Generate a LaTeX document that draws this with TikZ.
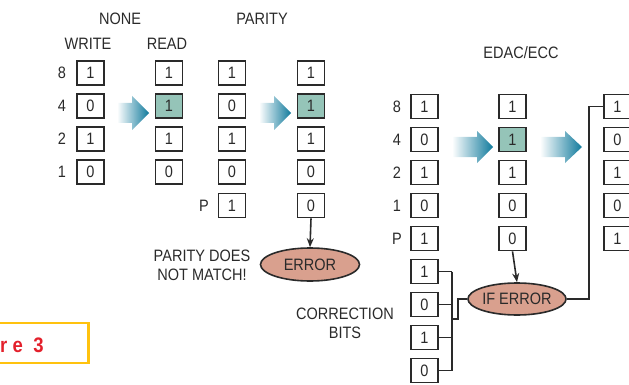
\documentclass[tikz,border=0pt]{standalone}
\usepackage{fontspec}
\setmainfont{Liberation Sans}[FakeStretch=0.88]
\usetikzlibrary{arrows.meta,shapes.geometric}
\definecolor{ink}{HTML}{2A2A2A}
\definecolor{hl}{HTML}{95C4B8}
\definecolor{salmon}{HTML}{D9A08E}
\definecolor{tealdark}{HTML}{107A9C}
\definecolor{figred}{HTML}{E3202B}
\definecolor{figyel}{HTML}{FFC20E}
\tikzset{
  txt/.style={font=\fontsize{16.5}{19}\selectfont},
  bit/.style={txt, draw=ink, line width=1.8pt, minimum width=27pt, minimum height=24pt, inner sep=0pt, text=ink},
  hbit/.style={bit, fill=hl},
  lbl/.style={txt, text=ink, inner sep=0pt},
  oval/.style={txt, ellipse, draw=ink, line width=1.6pt, fill=salmon, inner sep=0pt, text=ink},
  wire/.style={draw=ink, line width=1.6pt},
  arr/.style={wire, -{Stealth[length=9pt,width=7pt]}},
  bigarrow/.style={left color=white, right color=tealdark, draw=none}
}
\begin{document}
\begin{tikzpicture}[x=1pt,y=-1pt]
\useasboundingbox (0,0) rectangle (629,385);
% headings
\node[lbl] (hnone) at (120,19) {NONE};
\node[lbl] (hwrite) at (88,44) {WRITE};
\node[lbl] (hread) at (167,44) {READ};
\node[lbl] (hpar) at (262,19) {PARITY};
\node[lbl] (hedac) at (521,53) {EDAC/ECC};
% column 1 (write)
\node[bit] (a1) at (90.5,73) {1};
\node[bit] (a2) at (90.5,106) {0};
\node[bit] (a3) at (90.5,139) {1};
\node[bit] (a4) at (90.5,172) {0};
\node[lbl] (la1) at (62,73) {8};
\node[lbl] (la2) at (62,106) {4};
\node[lbl] (la3) at (62,139) {2};
\node[lbl] (la4) at (62,172) {1};
% column 2 (read)
\node[bit] (b1) at (169,73) {1};
\node[hbit] (b2) at (169,106) {1};
\node[bit] (b3) at (169,139) {1};
\node[bit] (b4) at (169,172) {0};
% column 3 (parity write)
\node[bit] (c1) at (232,73) {1};
\node[bit] (c2) at (232,106) {0};
\node[bit] (c3) at (232,139) {1};
\node[bit] (c4) at (232,172) {0};
\node[bit] (c5) at (232,205.5) {1};
\node[lbl] (lc5) at (204,205.5) {P};
% column 4 (parity read)
\node[bit] (d1) at (311,73) {1};
\node[hbit] (d2) at (311,106) {1};
\node[bit] (d3) at (311,139) {1};
\node[bit] (d4) at (311,172) {0};
\node[bit] (d5) at (311,205.5) {0};
\node[oval, minimum width=99pt, minimum height=33pt] (err) at (310,264.5) {ERROR};
\node[lbl, align=center] (nomatch) at (202,265) {PARITY DOES\\[0pt]NOT MATCH!};
\draw[arr] (d5.south) -- (err.north);
% arrows left
\shade[bigarrow] (117,103) -- (132,103) -- (132,96) -- (149,113) -- (132,130) -- (132,123) -- (117,123) -- cycle;
\shade[bigarrow] (259,103) -- (274,103) -- (274,96) -- (291,113) -- (274,130) -- (274,123) -- (259,123) -- cycle;
% EDAC column 5
\node[bit] (e1) at (424.5,106.5) {1};
\node[bit] (e2) at (424.5,139.5) {0};
\node[bit] (e3) at (424.5,172.5) {1};
\node[bit] (e4) at (424.5,205.5) {0};
\node[bit] (e5) at (424.5,238.5) {1};
\node[lbl] (le1) at (397,106.5) {8};
\node[lbl] (le2) at (397,139.5) {4};
\node[lbl] (le3) at (397,172.5) {2};
\node[lbl] (le4) at (397,205.5) {1};
\node[lbl] (le5) at (397,238.5) {P};
\node[bit] (k1) at (424.5,271.5) {1};
\node[bit] (k2) at (424.5,304.5) {0};
\node[bit] (k3) at (424.5,337.5) {1};
\node[bit] (k4) at (424.5,370.5) {0};
\node[lbl, align=center] (corr) at (345,323) {CORRECTION\\[0pt]BITS};
% EDAC column 6
\node[bit] (f1) at (512.5,106.5) {1};
\node[hbit] (f2) at (512.5,139.5) {1};
\node[bit] (f3) at (512.5,172.5) {1};
\node[bit] (f4) at (512.5,205.5) {0};
\node[bit] (f5) at (512.5,238.5) {0};
\node[oval, minimum width=98pt, minimum height=32pt] (iferr) at (517,299) {IF ERROR};
\draw[arr] (f5.south) -- (iferr.north);
% EDAC column 7
\node[bit] (g1) at (617.5,106.5) {1};
\node[bit] (g2) at (617.5,139.5) {0};
\node[bit] (g3) at (617.5,172.5) {1};
\node[bit] (g4) at (617.5,205.5) {0};
\node[bit] (g5) at (617.5,238.5) {1};
% EDAC arrows
\shade[bigarrow] (452,137) -- (477,137) -- (477,131) -- (493,147) -- (477,163) -- (477,157) -- (452,157) -- cycle;
\shade[bigarrow] (540,137) -- (565,137) -- (565,131) -- (582,147) -- (565,163) -- (565,157) -- (540,157) -- cycle;
% connectors
\coordinate (kx) at (589,0);
\draw[wire] (iferr.east) -| (kx |- g1.west) -- (g1.west);
\coordinate (bx) at (452,319);
\coordinate (by) at (458,319);
\draw[wire] (k1.east) -- (k1.east -| bx);
\draw[wire] (k2.east) -- (k2.east -| bx);
\draw[wire] (k3.east) -- (k3.east -| bx);
\draw[wire] (k4.east) -- (k4.east -| bx);
\draw[wire] (k1.east -| bx) -- (k4.east -| bx);
\draw[wire] (bx) -- (by) |- (iferr.west);
% figure label
\draw[draw=figyel, line width=2.2pt] (-5,323) rectangle (88.5,363);
\node[anchor=base west, inner sep=0pt, text=figred, font={\fontsize{21}{24}\selectfont\bfseries\addfontfeatures{LetterSpace=25}}] (figlab) at (0,352) {re 3};
\end{tikzpicture}
\end{document}
